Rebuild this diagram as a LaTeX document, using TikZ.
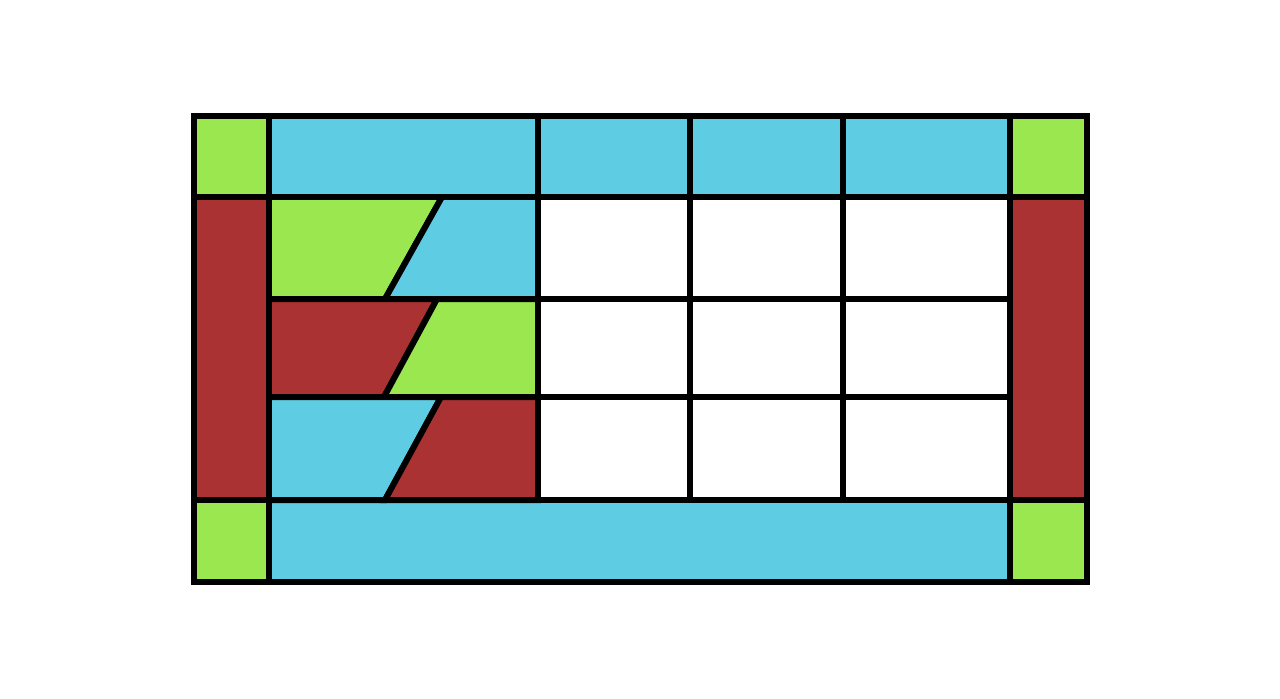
\documentclass[tikz,border=0pt]{standalone}
\usepackage{tikz}
\definecolor{paneGreen}{RGB}{155,231,80}
\definecolor{paneBlue}{RGB}{94,205,228}
\definecolor{paneRed}{RGB}{171,50,51}
\tikzset{%
  % Specifications for style of the panes:
  lead/.style = {draw=black, line width=3.4pt, line join=miter},
  greenPane/.style = {lead, fill=paneGreen},
  bluePane/.style = {lead, fill=paneBlue},
  redPane/.style = {lead, fill=paneRed},
  clearPane/.style = {lead, fill=white},
}
\begin{document}
\begin{tikzpicture}[x=0.02cm, y=-0.02cm]
  \useasboundingbox (0,0) rectangle (1280,698);
  % Corner squares
  \path[greenPane] (194,116) rectangle (269,197);
  \path[greenPane] (1010,116) rectangle (1087,197);
  \path[greenPane] (194,500) rectangle (269,582);
  \path[greenPane] (1010,500) rectangle (1087,582);
  % Border strips
  \path[bluePane] (269,116) rectangle (538,197);
  \foreach \xa/\xb in {538/690, 690/843, 843/1010}
    \path[bluePane] (\xa,116) rectangle (\xb,197);
  \path[bluePane] (269,500) rectangle (1010,582);
  \path[redPane] (194,197) rectangle (269,500);
  \path[redPane] (1010,197) rectangle (1087,500);
  % Slanted panes
  \foreach \ya/\yb/\xt/\xb/\cl/\cr in {197/299/442/385/greenPane/bluePane,
      299/397/437/384/redPane/greenPane,
      397/500/441/385/bluePane/redPane}{
    \path[\cl] (269,\ya) -- (\xt,\ya) -- (\xb,\yb) -- (269,\yb) -- cycle;
    \path[\cr] (\xt,\ya) -- (538,\ya) -- (538,\yb) -- (\xb,\yb) -- cycle;
  }
  % Clear panes
  \foreach \ya/\yb in {197/299, 299/397, 397/500}
    \foreach \xa/\xb in {538/690, 690/843, 843/1010}
      \path[clearPane] (\xa,\ya) rectangle (\xb,\yb);
  % Frame
  \draw[lead] (194,116) rectangle (1087,582);
\end{tikzpicture}
\end{document}
